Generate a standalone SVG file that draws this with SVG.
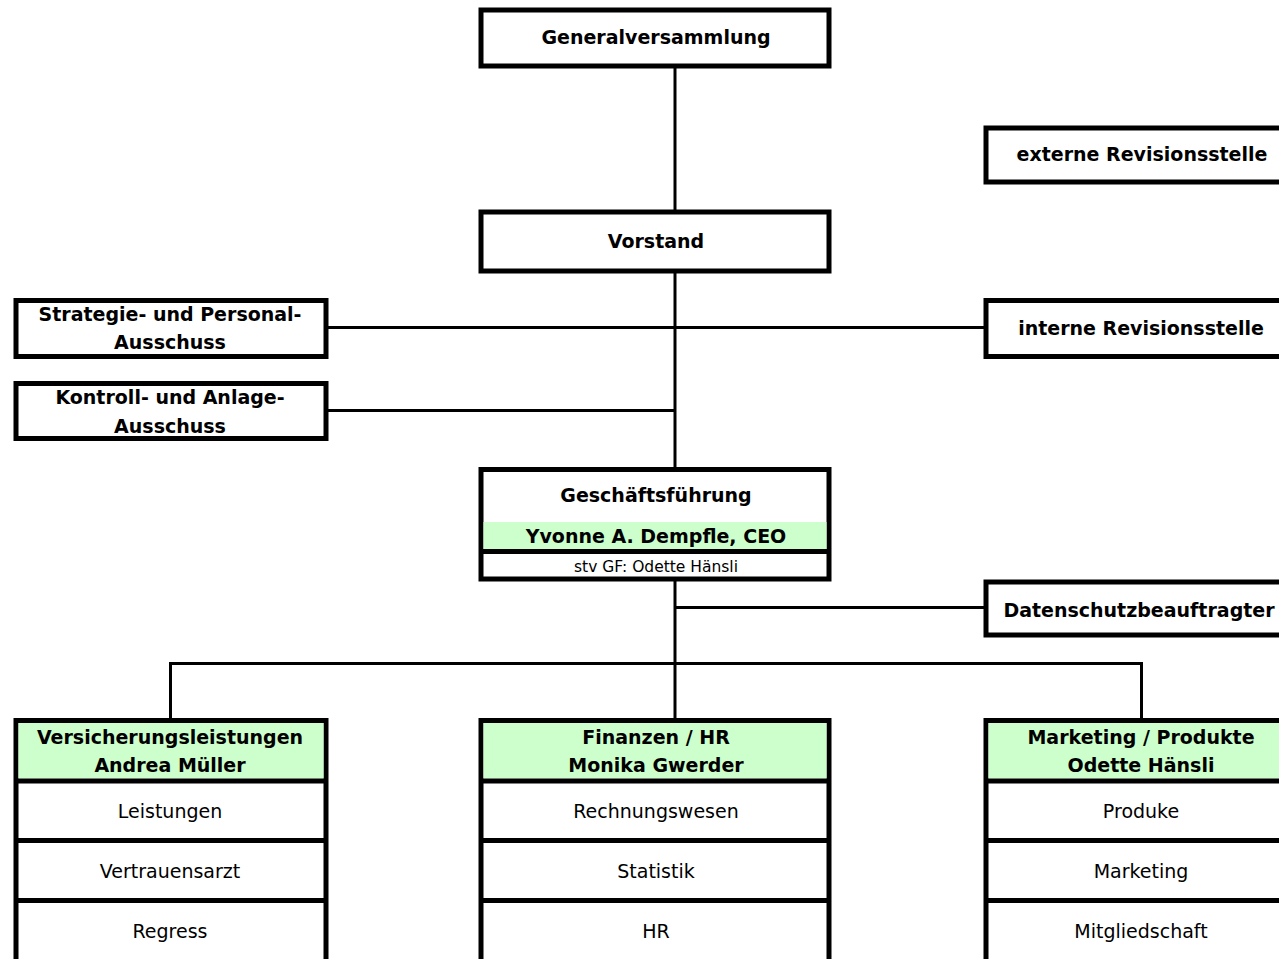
<svg xmlns="http://www.w3.org/2000/svg" width="1279" height="959" viewBox="0 0 1279 959">
<style>
.box{fill:#fff;stroke:#000;stroke-width:5}
.green{fill:#ccffcc;stroke:none}
.sep{stroke:#000;stroke-width:5}
.conn{stroke:#000;stroke-width:3;fill:none}
.b{font-family:"DejaVu Sans",Verdana,sans-serif;font-weight:bold;font-size:19px;fill:#000;text-anchor:middle}
.r{font-family:"DejaVu Sans",Verdana,sans-serif;font-size:19px;fill:#000;text-anchor:middle}
.s{font-family:"DejaVu Sans",Verdana,sans-serif;font-size:15.5px;fill:#000;text-anchor:middle}
</style>
<rect width="1279" height="959" fill="#fff"/>
<g id="connectors">
<line class="conn" x1="675" y1="66" x2="675" y2="212"/>
<line class="conn" x1="675" y1="271" x2="675" y2="470"/>
<line class="conn" x1="326" y1="327.5" x2="987" y2="327.5"/>
<line class="conn" x1="326" y1="410.5" x2="675" y2="410.5"/>
<line class="conn" x1="675" y1="579" x2="675" y2="721"/>
<line class="conn" x1="675" y1="607.5" x2="987" y2="607.5"/>
<polyline class="conn" points="170.5,721 170.5,663.5 1141.5,663.5 1141.5,721"/>
</g>
<g id="generalversammlung">
<rect class="box" x="481" y="10" width="348" height="56"/>
<text class="b" x="656" y="44">Generalversammlung</text>
</g>
<g id="externe-revisionsstelle">
<rect class="box" x="986" y="128" width="320" height="54"/>
<text class="b" x="1142" y="161">externe Revisionsstelle</text>
</g>
<g id="vorstand">
<rect class="box" x="481" y="212" width="348" height="59"/>
<text class="b" x="656" y="248">Vorstand</text>
</g>
<g id="strategie-ausschuss">
<rect class="box" x="16" y="300.5" width="310" height="56"/>
<text class="b" x="170" y="321">Strategie- und Personal-</text>
<text class="b" x="170" y="349">Ausschuss</text>
</g>
<g id="interne-revisionsstelle">
<rect class="box" x="986" y="300.5" width="320" height="56"/>
<text class="b" x="1141" y="335">interne Revisionsstelle</text>
</g>
<g id="kontroll-ausschuss">
<rect class="box" x="16" y="383.5" width="310" height="55"/>
<text class="b" x="170" y="404">Kontroll- und Anlage-</text>
<text class="b" x="170" y="433">Ausschuss</text>
</g>
<g id="geschaeftsfuehrung">
<rect class="box" x="481" y="469.5" width="348" height="109.5"/>
<rect class="green" x="483.5" y="522" width="343" height="27.5"/>
<line class="sep" x1="481" y1="551.5" x2="829" y2="551.5"/>
<text class="b" x="656" y="502">Geschäftsführung</text>
<text class="b" x="656" y="543">Yvonne A. Dempfle, CEO</text>
<text class="s" x="656" y="571.5">stv GF: Odette Hänsli</text>
</g>
<g id="datenschutzbeauftragter">
<rect class="box" x="986" y="582" width="320" height="53"/>
<text class="b" x="1139" y="617">Datenschutzbeauftragter</text>
</g>
<g id="versicherungsleistungen">
<rect class="box" x="16" y="720.5" width="310" height="260"/>
<rect class="green" x="18.5" y="723" width="305" height="55.5"/>
<line class="sep" x1="16" y1="781" x2="326" y2="781"/>
<line class="sep" x1="16" y1="840.5" x2="326" y2="840.5"/>
<line class="sep" x1="16" y1="900.5" x2="326" y2="900.5"/>
<text class="b" x="170" y="744">Versicherungsleistungen</text>
<text class="b" x="170" y="772">Andrea Müller</text>
<text class="r" x="170" y="818">Leistungen</text>
<text class="r" x="170" y="878">Vertrauensarzt</text>
<text class="r" x="170" y="938">Regress</text>
</g>
<g id="finanzen-hr">
<rect class="box" x="481" y="720.5" width="348" height="260"/>
<rect class="green" x="483.5" y="723" width="343" height="55.5"/>
<line class="sep" x1="481" y1="781" x2="829" y2="781"/>
<line class="sep" x1="481" y1="840.5" x2="829" y2="840.5"/>
<line class="sep" x1="481" y1="900.5" x2="829" y2="900.5"/>
<text class="b" x="656" y="744">Finanzen / HR</text>
<text class="b" x="656" y="772">Monika Gwerder</text>
<text class="r" x="656" y="818">Rechnungswesen</text>
<text class="r" x="656" y="878">Statistik</text>
<text class="r" x="656" y="938">HR</text>
</g>
<g id="marketing-produkte">
<rect class="box" x="986" y="720.5" width="320" height="260"/>
<rect class="green" x="988.5" y="723" width="320" height="55.5"/>
<line class="sep" x1="986" y1="781" x2="1306" y2="781"/>
<line class="sep" x1="986" y1="840.5" x2="1306" y2="840.5"/>
<line class="sep" x1="986" y1="900.5" x2="1306" y2="900.5"/>
<text class="b" x="1141" y="744">Marketing / Produkte</text>
<text class="b" x="1141" y="772">Odette Hänsli</text>
<text class="r" x="1141" y="818">Produke</text>
<text class="r" x="1141" y="878">Marketing</text>
<text class="r" x="1141" y="938">Mitgliedschaft</text>
</g>
</svg>
